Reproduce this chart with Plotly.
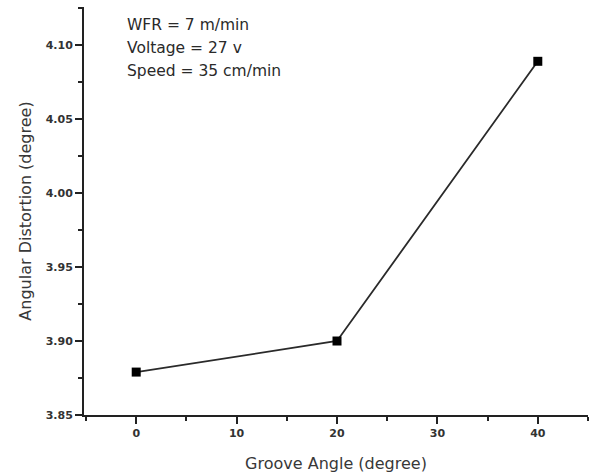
import plotly.graph_objects as go

groove_angle = [0, 20, 40]
angular_distortion = [3.879, 3.900, 4.089]
x_ticks = [0, 10, 20, 30, 40]
y_ticks = [3.85, 3.90, 3.95, 4.00, 4.05, 4.10]
info_lines = ["WFR = 7 m/min", "Voltage = 27 v", "Speed = 35 cm/min"]

fig = go.Figure()
fig.add_trace(go.Scatter(
    x=groove_angle, y=angular_distortion, mode="lines+markers",
    line=dict(color="#2a2a2a", width=1.8),
    marker=dict(symbol="square", size=9, color="#000000"),
    showlegend=False,
))

axis_common = dict(
    showline=True, linecolor="#222222", linewidth=2,
    ticks="outside", ticklen=7, tickwidth=1.6, tickcolor="#222222",
    showgrid=False, zeroline=False,
    tickfont=dict(family="DejaVu Sans", size=11, color="#333333", weight="bold"),
    mirror=False,
)
title_font = dict(family="DejaVu Sans", size=16, color="#383838")

fig.update_xaxes(
    range=[-5.2, 45], tickvals=x_ticks, ticktext=[str(v) for v in x_ticks],
    title=dict(text="Groove Angle (degree)", font=title_font, standoff=19),
    minor=dict(dtick=5, tick0=0, ticklen=4, tickwidth=1.6, tickcolor="#222222", ticks="outside"),
    **axis_common,
)
fig.update_yaxes(
    range=[3.85, 4.1257], tickvals=y_ticks, ticktext=[f"{v:.2f}" for v in y_ticks],
    title=dict(text="Angular Distortion (degree)", font=title_font, standoff=10),
    minor=dict(dtick=0.025, tick0=3.85, ticklen=4, tickwidth=1.6, tickcolor="#222222", ticks="outside"),
    **axis_common,
)

line_y = [0.956, 0.900, 0.843]
for txt, yy in zip(info_lines, line_y):
    fig.add_annotation(
        xref="paper", yref="paper", x=0.081, y=yy, xanchor="left", yanchor="middle",
        text=txt, showarrow=False, align="left",
        font=dict(family="DejaVu Sans", size=15.5, color="#2a2a2a"),
    )

fig.update_layout(
    width=591, height=475,
    margin=dict(l=84, r=3, t=7, b=60),
    plot_bgcolor="white", paper_bgcolor="white",
)

fig.write_html("out.html")
